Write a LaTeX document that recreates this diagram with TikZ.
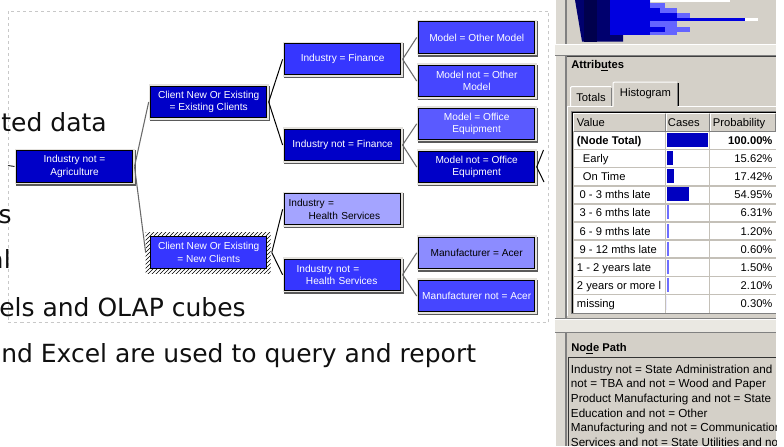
\documentclass[tikz,border=0pt]{standalone}
\usepackage{fontspec}
\setmainfont{DejaVu Sans}
\newfontfamily\uifont{Liberation Sans}
\usetikzlibrary{patterns}
\definecolor{panelgray}{HTML}{D4D0C8}
\definecolor{darkline}{HTML}{808080}
\definecolor{splitlight}{HTML}{EAE8E2}
\definecolor{stripgray}{HTML}{DCD9D2}
\definecolor{gridgray}{HTML}{C4C0B8}
\definecolor{framelight}{HTML}{E4E2DE}
\definecolor{frameshadow}{HTML}{5A5A5A}
\definecolor{conngray}{HTML}{6A6A6A}
\definecolor{dashcol}{HTML}{C8C8C8}
\definecolor{slideblack}{HTML}{101010}
\definecolor{navyh}{HTML}{00006E}
\definecolor{hblue}{HTML}{0000E0}
\definecolor{hlight}{HTML}{6464FF}
\definecolor{barblue}{HTML}{0000C0}
\definecolor{barlight}{HTML}{6E6EFF}
\definecolor{ndark}{HTML}{0000C8}
\definecolor{nmid}{HTML}{3636FF}
\definecolor{nmidb}{HTML}{4646FF}
\definecolor{nmidc}{HTML}{5A5AFF}
\definecolor{nlav}{HTML}{A4A4FF}
\definecolor{nperi}{HTML}{8C8CFF}
\begin{document}
\begin{tikzpicture}[x=0.75pt,y=-0.75pt,
  tbox/.style={draw=black, line width=0.75pt, fill=#1, minimum width=87pt, minimum height=23.5pt,
    inner sep=0pt, outer sep=1.5pt, align=center, text=white,
    font=\uifont\fontsize{7.6}{9.3}\selectfont,
    preaction={draw=frameshadow, line width=3pt, transform canvas={shift={(1.1pt,-1.1pt)}}},
    preaction={draw=framelight, line width=3pt}},
  selbox/.style={draw=black, line width=0.75pt, fill=#1, minimum width=87pt, minimum height=23.7pt,
    inner sep=0pt, outer sep=3.8pt, align=center, text=white,
    font=\uifont\fontsize{7.6}{9.3}\selectfont},
  gconn/.style={draw=conngray, line width=0.8pt},
  bconn/.style={draw=black, line width=0.75pt},
  slidetext/.style={font=\fontsize{18.75}{22}\selectfont, text=slideblack, inner sep=0pt},
  ui/.style={font=\uifont\fontsize{8.4}{10}\selectfont, inner sep=0pt, text=black},
  uip/.style={font=\uifont\fontsize{8.75}{10}\selectfont, inner sep=0pt, text=black},
  uib/.style={font=\uifont\bfseries\fontsize{8.4}{10}\selectfont, inner sep=0pt, text=black},
]
\useasboundingbox (0,0) rectangle (784,446);
% slide background
\fill[white] (0,0) rectangle (784,446);
\draw[dashcol, line width=0.75pt, dash pattern=on 2.25pt off 2.25pt] (8,11) rectangle (548.3,322.5);

% slide text
\node[slidetext, anchor=base east] (t1) at (107,131) {ted data};
\node[slidetext, anchor=base east] (t2) at (12,223) {s};
\node[slidetext, anchor=base east] (t3) at (11,268) {al};
\node[slidetext, anchor=base west] (t4) at (-1,316) {els and OLAP cubes};
\node[slidetext, anchor=base west] (t5) at (1,362) {nd Excel are used to query and report};

% ---------------- right panel ----------------
\fill[panelgray] (555,0) rectangle (776,446);
\fill[white] (776,0) rectangle (784,446);
\fill[stripgray] (555,0) rectangle (565,446);
\draw[white, line width=0.75pt] (555.5,0) -- (555.5,446);
\fill[darkline] (565,0) rectangle (567,446);

% histogram graphic
\fill[white] (650,0) rectangle (730,1.7);
\fill[navyh] (575,0) -- (610,0) -- (610,35) -- (623,35) -- (623,41.5) -- (582,41.5) -- cycle;
\fill[navyh!70!black] (584,0) rectangle (597,41.5);
\foreach \ya/\yb/\xe/\xl in {0/3.3/650/650, 3.3/8.3/665/650, 8.3/13.3/677/660, 13.3/18.3/690/677,
   18.3/20.7/745/690, 20.7/26.7/677/650, 26.7/31.7/690/665, 31.7/35/677/650}{
  \fill[hblue] (610,\ya) rectangle (\xl,\yb);
  \fill[hlight] (\xl,\ya) rectangle (\xe,\yb);
}
\fill[hblue] (690,18.3) rectangle (745,20.7);
\fill[white] (745,18.3) rectangle (758,20.7);

% top splitter
\fill[splitlight] (555,44) rectangle (776,55);
\draw[white, line width=0.75pt] (555,44.5) -- (776,44.5);
\draw[darkline, line width=0.75pt] (555,55.5) -- (776,55.5);
\draw[black!75, line width=0.75pt] (567,56.5) -- (776,56.5);

\node[uib, anchor=base west] (attr) at (571,68.5) {Attrib\underline{u}tes};

% tabs
\draw[white, line width=0.75pt] (567.5,316) -- (567.5,106.5) -- (612.7,106.5);
\draw[white, line width=0.75pt] (678.3,106.5) -- (776,106.5);
\draw[white, line width=0.75pt] (570.5,106) -- (570.5,87.5) -- (572,86.5) -- (611,86.5);
\draw[darkline, line width=0.75pt] (611.5,87.5) -- (611.5,106);
\draw[white, line width=0.75pt] (613,106.5) -- (613,83) -- (614.5,82) -- (677,82);
\draw[darkline, line width=0.75pt] (677.3,83) -- (677.3,106);
\draw[black, line width=0.75pt] (678.5,83) -- (678.5,106);
\node[ui] (tabt) at (591,97) {Totals};
\node[ui] (tabh) at (645.5,94) {Histogram};

% table
\fill[white] (573,131.5) rectangle (776,312.5);
\foreach \a/\b in {573/665.5, 665.5/709.5, 709.5/776}{
  \fill[panelgray] (\a,113) rectangle (\b,131.5);
  \draw[white, line width=0.75pt] ({\a+0.5},131) -- ({\a+0.5},113.5) -- ({\b-1},113.5);
  \draw[darkline, line width=0.75pt] ({\a+0.5},131) -- ({\b-0.5},131) -- ({\b-0.5},113.5);
}
\foreach \i in {1,...,9}{
  \draw[gridgray, line width=1.1pt] (573,{131.5+18.1*\i}) -- (776,{131.5+18.1*\i});
}
\draw[gridgray, line width=1.1pt] (665.5,131.5) -- (665.5,312.5);
\draw[gridgray, line width=1.1pt] (709.7,131.5) -- (709.7,312.5);
\draw[gridgray, line width=1.1pt] (573.6,131.5) -- (573.6,312.5);
\draw[darkline, line width=0.75pt] (571.5,313.5) -- (571.5,111.5) -- (776,111.5);
\draw[black, line width=0.75pt] (572.5,313) -- (572.5,112.5) -- (776,112.5);
\draw[darkline, line width=0.75pt] (572,313.5) -- (776,313.5);

\node[ui, anchor=base west] (hv) at (576.7,126.5) {Value};
\node[ui, anchor=base west] (hc) at (667.7,126.5) {Cases};
\node[ui, anchor=base west] (hp) at (712.7,126.5) {Probability};

% rows
\node[uib, anchor=base west] (v0) at (576.7,144.5) {(Node Total)};
\node[uib, anchor=base east] (p0) at (772.7,144.5) {100.00\%};
\fill[barblue] (666.7,133) rectangle (708.4,147);
\foreach \i/\lab/\lx/\pr/\bw/\bc in {
   1/Early/582.7/15.62/6/barblue,
   2/On Time/582.7/17.42/7/barblue,
   3/0 - 3 mths late/579.3/54.95/22.7/barblue,
   4/3 - 6 mths late/579.3/6.31/1.8/barlight,
   5/6 - 9 mths late/579.3/1.20/1.8/barlight,
   6/9 - 12 mths late/579.3/0.60/1.8/barlight,
   7/1 - 2 years late/576.7/1.50/1.8/barlight,
   8/2 years or more l/576.7/2.10/1.8/barlight,
   9/missing/576.7/0.30/0/barlight}{
  \node[ui, anchor=base west] (v\i) at (\lx,{131.5+18.1*\i+13}) {\lab};
  \node[ui, anchor=base east] (p\i) at (772.7,{131.5+18.1*\i+13}) {\pr\%};
  \fill[\bc] (666.7,{131.5+18.1*\i+1.5}) rectangle ({666.7+\bw},{131.5+18.1*\i+15.5});
}

% bottom splitter
\fill[splitlight] (555,318) rectangle (776,332.5);
\draw[darkline, line width=0.75pt] (555,318) -- (776,318);
\draw[white, line width=0.75pt] (555,319.2) -- (776,319.2);
\draw[darkline, line width=0.75pt] (555,332.5) -- (776,332.5);

\node[uib, anchor=base west] (np) at (571,351.5) {No\underline{d}e Path};
\draw[black!80, line width=0.75pt] (568.5,446) -- (568.5,357.5) -- (776,357.5);
\begin{scope}
  \clip (569,358) rectangle (776,446);
  \node[uip, anchor=base west] (l1) at (570.7,373) {Industry not = State Administration and};
  \node[uip, anchor=base west] (l2) at (570.7,387.7) {not = TBA and not = Wood and Paper};
  \node[uip, anchor=base west] (l3) at (570.7,402.3) {Product Manufacturing and not = State};
  \node[uip, anchor=base west] (l4) at (570.7,417) {Education and not = Other};
  \node[uip, anchor=base west] (l5) at (570.7,431.6) {Manufacturing and not = Communication};
  \node[uip, anchor=base west] (l6) at (570.7,446.2) {Services and not = State Utilities and not};
\end{scope}

% ---------------- decision tree ----------------
\node[tbox=ndark] (agr) at (74.5,166.5) {Industry not =\\Agriculture};
\node[tbox=ndark] (ex) at (208.7,102) {Client New Or Existing\\= Existing Clients};
\fill[white] (145.7,232) rectangle (270.7,273);
\fill[pattern=north east lines, pattern color=black] (145.7,232) rectangle (270.7,273);
\node[selbox=nmid] (nc) at (208.7,252.5) {Client New Or Existing\\= New Clients};
\node[tbox=nmid] (fin) at (342.6,59.3) {Industry = Finance};
\node[tbox=ndark] (nfin) at (342.6,145) {Industry  not = Finance};
\node[tbox=nlav, text=black, align=left, text width=81pt] (hs) at (342.6,209.3)
   {Industry =\\\hspace*{15pt}Health Services};
\node[tbox=nmid, align=left, text width=81pt] (nhs) at (342.6,274.7)
   {\hspace*{6pt}Industry not =\\\hspace*{13pt}Health Services};
\node[tbox=nmidb] (mo) at (476.7,37.5) {Model = Other Model};
\node[tbox=nmidb] (nmo) at (476.7,81) {Model not = Other\\Model};
\node[tbox=nmidc] (mof) at (476.7,123.8) {Model = Office\\Equipment};
\node[tbox=ndark] (nmof) at (476.7,167) {Model not = Office\\Equipment};
\node[tbox=nperi, text=black] (acer) at (476.7,252.8) {Manufacturer = Acer};
\node[tbox=nmidb] (nacer) at (476.7,296) {Manufacturer not = Acer};

% connectors
\coordinate (rootin) at (8,165.5);
\draw[bconn, draw=black!80] (rootin) -- (agr.west);
\draw[gconn] (agr.east) -- (ex.west);
\draw[gconn] (agr.east) -- (nc.west);
\draw[bconn] (ex.east) -- (fin.west);
\draw[bconn] (ex.east) -- (nfin.west);
\draw[bconn] (nc.east) -- (hs.west);
\draw[bconn] (nc.east) -- (nhs.west);
\draw[gconn] (fin.east) -- (mo.west);
\draw[gconn] (fin.east) -- (nmo.west);
\draw[gconn] (nfin.east) -- (mof.west);
\draw[gconn] (nfin.east) -- (nmof.west);
\draw[gconn] (nhs.east) -- (acer.west);
\draw[gconn] (nhs.east) -- (nacer.west);
\coordinate (tr1) at (543.5,150);
\coordinate (tr2) at (544,182);
\draw[bconn] (tr1) -- (nmof.east) -- (tr2);
\end{tikzpicture}
\end{document}
